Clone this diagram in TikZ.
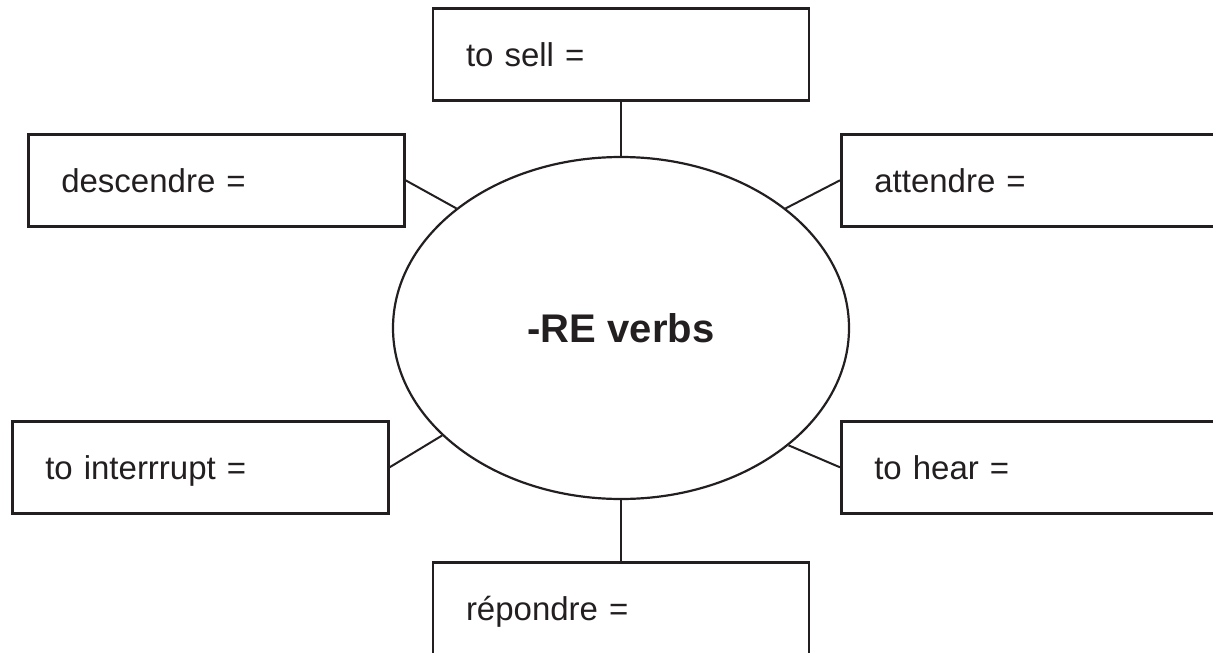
\documentclass[tikz,border=0pt]{standalone}
\usepackage{fontspec}
\setmainfont{Liberation Sans}
\usetikzlibrary{shapes.geometric}
\definecolor{Ink}{HTML}{231F20}

\begin{document}
\begin{tikzpicture}[x=0.5pt,y=-0.5pt,
    word/.style={draw=Ink,line width=1.3pt,anchor=north west,minimum width=188pt,
      minimum height=46pt,inner xsep=16.5pt,text width=155pt,align=left,
      text height=12pt,text depth=0pt,font=\fontsize{16.5}{18}\selectfont,text=Ink},
    hub/.style={ellipse,draw=Ink,line width=1.1pt,minimum width=228pt,minimum height=171pt,
      font=\bfseries\fontsize{20}{24}\selectfont,text=Ink},
    link/.style={draw=Ink,line width=1pt}
  ]
    \useasboundingbox (0,0) rectangle (1213,652);
    \node[hub] (verbs) at (621,328) {-RE verbs};
    \node[word,anchor=north] (sell) at (621,7) {to sell =};
    \node[word] (desc) at (27,133) {descendre =};
    \node[word] (att) at (840,133) {attendre =};
    \node[word] (intr) at (11,420) {to interrrupt =};
    \node[word] (hear) at (840,420) {to hear =};
    \node[word,anchor=north] (rep) at (621,561) {répondre =};
    \draw[link] (sell) -- (verbs);
    \draw[link] (desc.east) -- (verbs.144);
    \draw[link] (att.west) -- (verbs.36);
    \draw[link] (intr.east) -- (verbs.211);
    \draw[link] (hear.west) -- (verbs.325);
    \draw[link] (verbs) -- (rep);
  \end{tikzpicture}
\end{document}
